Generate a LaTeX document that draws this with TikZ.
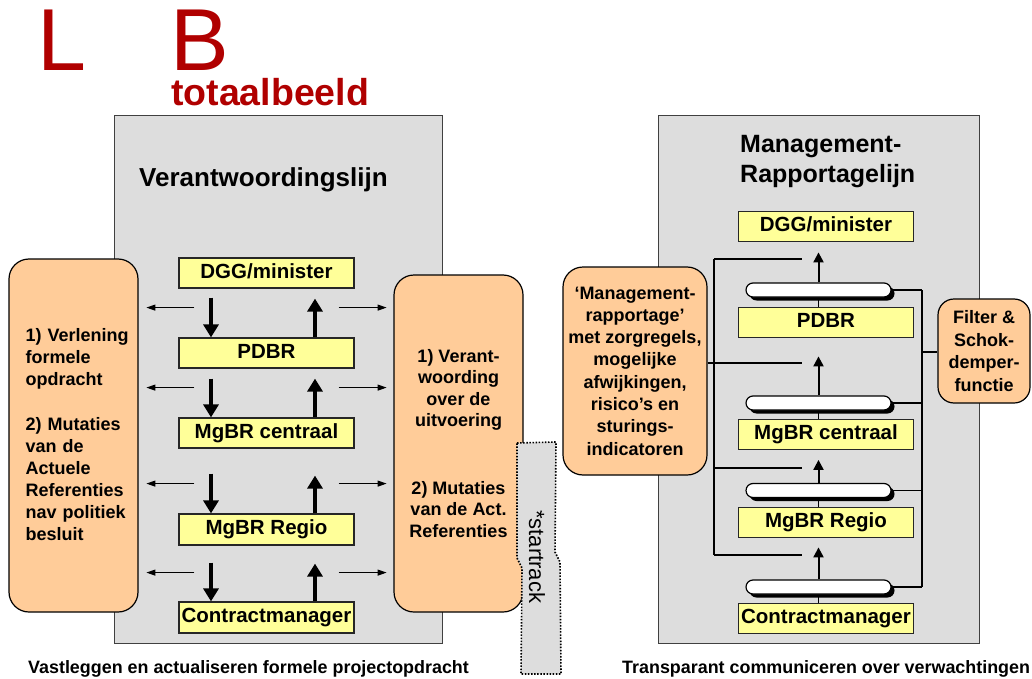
\documentclass[tikz,border=0pt]{standalone}
\usepackage{fontspec}
\setmainfont{Liberation Sans}
\usetikzlibrary{arrows.meta,calc,shadows}
\definecolor{panelgray}{HTML}{DDDDDD}
\definecolor{boxyellow}{HTML}{FFFF99}
\definecolor{boxorange}{HTML}{FFCC99}
\definecolor{titlered}{HTML}{B00000}
\definecolor{framegray}{HTML}{404040}

\begin{document}
\begin{tikzpicture}[x=1pt,y=-1pt,
  panel/.style={draw=framegray, fill=panelgray, line width=1.3pt, inner sep=0pt, anchor=north west},
  level/.style={draw=black!85, fill=boxyellow, line width=1.2pt, minimum width=175pt,
    minimum height=30pt, inner sep=0pt, font=\fontsize{20.5}{24}\selectfont\bfseries,
    text height=14.5pt, text depth=4pt},
  notebox/.style={draw=black, fill=boxorange, line width=1.2pt, rounded corners=20pt, inner sep=0pt},
  notetext/.style={font=\fontsize{18}{22}\selectfont\bfseries, inner sep=0pt},
  pill/.style={draw=black, fill=white, line width=1.2pt, rounded corners=7pt,
    minimum width=145pt, minimum height=14pt, inner sep=0pt,
    drop shadow={shadow xshift=3.5pt, shadow yshift=-3.5pt, opacity=1, fill=black}},
  heavy/.style={line width=4pt, -{Triangle[length=13pt,width=15pt]}},
  side/.style={line width=1pt, -{Triangle[length=9pt,width=6pt]}},
  rise/.style={line width=2pt, -{Triangle[length=10pt,width=10pt]}},
  wire/.style={line width=1.2pt},
  caption/.style={anchor=base west, inner sep=0pt, font=\fontsize{17.9}{20}\selectfont\bfseries},
  bigletter/.style={anchor=base west, inner sep=0pt, font=\fontsize{88}{88}\selectfont,
    text=titlered, text depth=0pt},
]
\useasboundingbox (0,0) rectangle (1032,679);

% title
\node[bigletter] (titleL) at (37.6,71) {L};
\node[bigletter] (titleB) at (170.6,71) {B};
\node[anchor=base west, inner sep=0pt, font=\fontsize{37.5}{40}\selectfont\bfseries, text=titlered] (subtitle) at (171,106) {totaalbeeld};

% panels
\node[panel, minimum width=328pt, minimum height=528pt] (lpanel) at (114,115) {};
\node[panel, minimum width=321pt, minimum height=528pt] (rpanel) at (658,115) {};

\node[anchor=base west, inner sep=0pt, font=\fontsize{26}{30}\selectfont\bfseries] (ltitle) at (139,186) {Verantwoordingslijn};
\node[anchor=west, align=left, inner sep=0pt, font=\fontsize{25}{30}\selectfont\bfseries] (rtitle) at (740,161.6) {Management-\\Rapportagelijn};

% ---------- accountability line ----------
\node[level] (ldgg) at (266.5,273) {DGG/minister};
\node[level] (lpdbr) at (266.5,353) {PDBR};
\node[level] (lcen) at (266.5,433) {MgBR centraal};
\node[level, minimum height=31pt] (lreg) at (266.5,529.5) {MgBR Regio};
\node[level, minimum height=31pt] (lcon) at (266.5,617.5) {Contractmanager};

% downward instructions, upward accountability
\draw[heavy] ($(ldgg.south)+(-55.5,9)$) -- ($(lpdbr.north)+(-55.5,0)$);
\draw[heavy] ($(lpdbr.north)+(48.5,0)$) -- ($(ldgg.south)+(48.5,10)$);
\draw[heavy] ($(lpdbr.south)+(-55.5,10)$) -- ($(lcen.north)+(-55.5,0)$);
\draw[heavy] ($(lcen.north)+(48.5,0)$) -- ($(lpdbr.south)+(48.5,10)$);
\draw[heavy] ($(lcen.south)+(-55.5,25)$) -- ($(lreg.north)+(-55.5,0)$);
\draw[heavy] ($(lreg.north)+(48.5,0)$) -- ($(lcen.south)+(48.5,27)$);
\draw[heavy] ($(lreg.south)+(-55.5,17)$) -- ($(lcon.north)+(-55.5,0)$);
\draw[heavy] ($(lcon.north)+(48.5,0)$) -- ($(lreg.south)+(48.5,18)$);

% side notes
\node[notebox, minimum width=129pt, minimum height=353pt] (lnote) at (73.5,435.5) {};
\node[notetext, anchor=west, align=left, text width=104pt] (lnotetext) at ($(lnote.west)+(17,-1)$)
  {1) Verlening\\formele\\opdracht\\[23pt]2) Mutaties\\van de\\Actuele\\Referenties\\nav politiek\\besluit};
\node[notebox, notetext, font=\fontsize{18}{21.5}\selectfont\bfseries, align=center,
  minimum width=129pt, minimum height=337pt] (rnote) at (458.5,443.5)
  {1) Verant-\\woording\\over de\\uitvoering\\[46pt]2) Mutaties\\van de Act.\\Referenties};

% thin arrows towards the side notes
\foreach \b/\dy in {ldgg/19, lpdbr/19, lcen/35, lreg/27}{
  \draw[side] ($(\b.south west)+(16,\dy)$) -- ($(\b.south west)+(-32,\dy)$);
  \draw[side] ($(\b.south east)+(-16,\dy)$) -- ($(\b.south east)+(32,\dy)$);
}

% start track strip
\draw[dash pattern=on 1.5pt off 1.6pt, line width=1.6pt, fill=panelgray]
  (517,443) -- (556,442) -- (555,552) -- (560,562) -- (561,674) -- (521,674) -- (522,568) -- (517,558) -- cycle;
\node[anchor=base west, rotate=-90, inner sep=0pt, font=\fontsize{22}{22}\selectfont] (startrack) at (529,510) {*startrack};

% ---------- management reporting line ----------
\node[level] (rdgg) at (826,226.5) {DGG/minister};
\node[level] (rpdbr) at (826,322.5) {PDBR};
\node[level] (rcen) at (826,434.5) {MgBR centraal};
\node[level] (rreg) at (826,522.5) {MgBR Regio};
\node[level] (rcon) at (826,618.5) {Contractmanager};

% feedback collector on the left
\coordinate (fa1) at (714,259); \coordinate (fb1) at (802,259);
\coordinate (fa2) at (714,363); \coordinate (fb2) at (802,363);
\coordinate (fa3) at (714,468); \coordinate (fb3) at (802,468);
\coordinate (fa4) at (714,555); \coordinate (fb4) at (802,555);
\draw[wire] (fa1) -- (fa4);
\foreach \i in {1,...,4}{ \draw[wire] (fa\i) -- (fb\i); }

% filter collector on the right
\coordinate (bus) at (922,352);

\node[pill] (p1) at (818.5,290) {};
\node[pill] (p2) at (818.5,403) {};
\node[pill] (p3) at (818.5,490.5) {};
\node[pill] (p4) at (818.5,587) {};

\draw[wire] (p1.east -| bus) -- (p4.east -| bus);
\foreach \p in {p1,p2,p3,p4}{ \draw[wire] (\p.east) -- (\p.east -| bus); }

\draw[wire] (p1.south) -- (p1.south |- rpdbr.north);
\draw[wire] (p2.south) -- (p2.south |- rcen.north);
\draw[wire] (p3.south) -- (p3.south |- rreg.north);
\draw[wire] (p4.south) -- (p4.south |- rcon.north);

\coordinate (t1) at ($(p1.north)+(0,-30)$);
\coordinate (t2) at ($(p2.north)+(0,-39)$);
\coordinate (t3) at ($(p3.north)+(0,-23)$);
\coordinate (t4) at ($(p4.north)+(0,-32)$);
\foreach \i in {1,...,4}{ \draw[rise] (p\i.north) -- (t\i); }

\node[notebox, notetext, font=\fontsize{18}{22.3}\selectfont\bfseries, align=center,
  minimum width=144pt, minimum height=208pt] (mgmt) at (635,371)
  {‘Management-\\rapportage’\\met zorgregels,\\mogelijke\\afwijkingen,\\risico’s en\\sturings-\\indicatoren};
\draw[wire] (mgmt.east |- fa2) -- (fa2);

\node[notebox, notetext, rounded corners=16pt, font=\fontsize{18}{22.7}\selectfont\bfseries, align=center,
  minimum width=92pt, minimum height=104pt] (filter) at (984,351)
  {Filter \&\\Schok-\\demper-\\functie};
\draw[wire] (bus) -- (bus -| filter.west);

% captions
\node[caption] (lcaption) at (28,673) {Vastleggen en actualiseren formele projectopdracht};
\node[caption] (rcaption) at (622,673) {Transparant communiceren over verwachtingen};
\end{tikzpicture}
\end{document}
